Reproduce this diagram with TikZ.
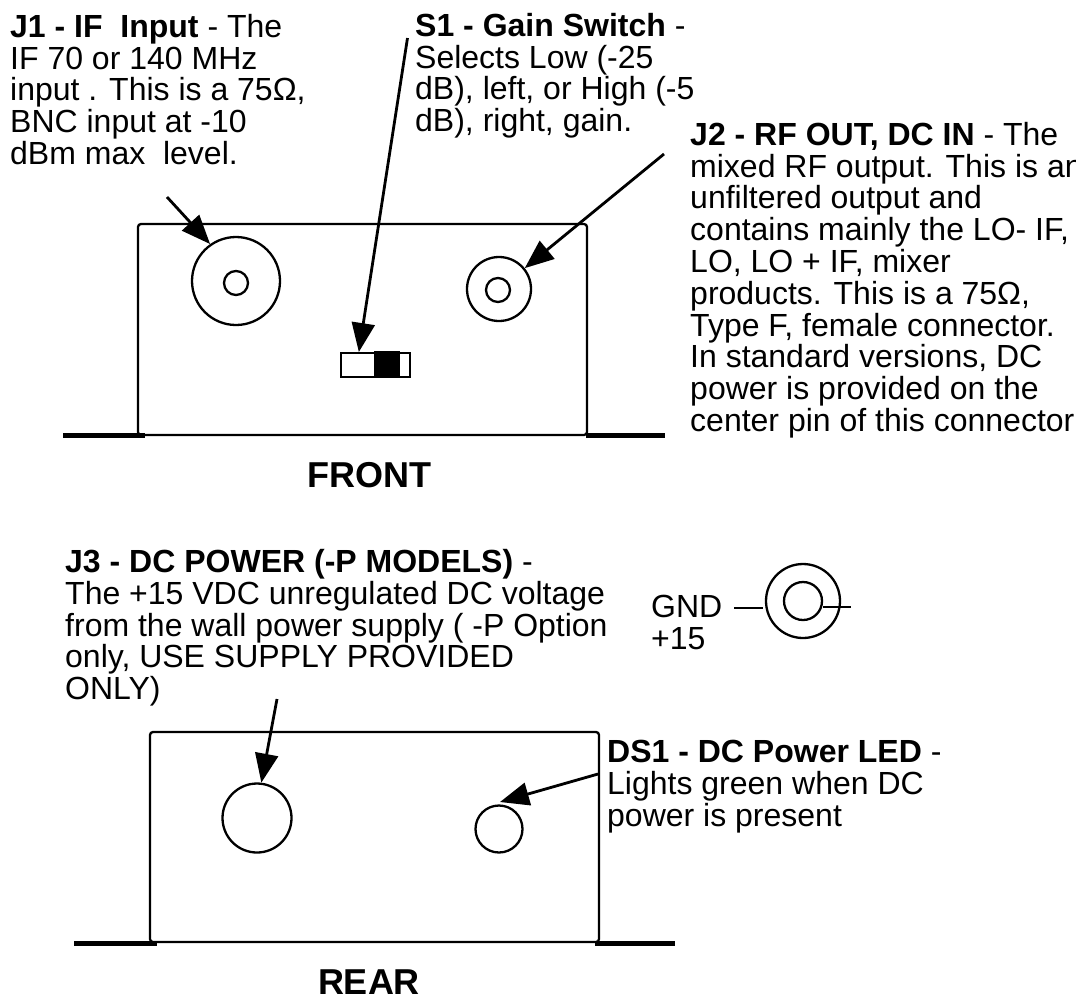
\documentclass[tikz,border=0pt]{standalone}
\usepackage{fontspec}
\setmainfont{Liberation Sans}
\usetikzlibrary{arrows.meta}
\tikzset{
  x=1pt,y=-1pt,
  label text/.style={anchor=north west,inner sep=0pt,align=left,font=\fontsize{32}{31.8}\selectfont},
  title text/.style={anchor=center,inner sep=0pt,font=\fontsize{36}{38}\selectfont\bfseries},
  casing/.style={draw=black,line width=2.3pt,rounded corners=3pt},
  foot/.style={line width=5pt},
  ring/.style={circle,draw=black,line width=2.3pt,inner sep=0pt},
  pointer/.style={line width=2.8pt,-{Triangle[length=29pt,width=23pt]}},
  thinlead/.style={line width=2.3pt},
}
\begin{document}
\begin{tikzpicture}
\useasboundingbox (0,0) rectangle (1076,997);
% labels
\node[label text] (j1t) at (10,14) {\textbf{J1 - IF\ \ Input} - The\\IF 70 or 140 MHz\\input . This is a 75Ω,\\BNC input at -10\\dBm max\ \ level.};
\node[label text] (s1t) at (415,13) {\textbf{S1 - Gain Switch} -\\Selects Low (-25\\dB), left, or High (-5\\dB), right, gain.};
\node[label text] (j2t) at (690,122) {\textbf{J2 - RF OUT, DC IN} - The\\mixed RF output. This is an\\unfiltered output and\\contains mainly the LO- IF,\\LO, LO + IF, mixer\\products. This is a 75Ω,\\Type F, female connector.\\In standard versions, DC\\power is provided on the\\center pin of this connector};
\node[label text] (j3t) at (65,549) {\textbf{J3 - DC POWER (-P MODELS)} -\\The +15 VDC unregulated DC voltage\\from the wall power supply ( -P Option\\only, USE SUPPLY PROVIDED\\ONLY)};
\node[label text] (dst) at (607,740) {\textbf{DS1 - DC Power LED} -\\Lights green when DC\\power is present};
\node[label text] (gnd) at (651,595) {GND\\+15};
\node[title text] (front) at (369.5,475) {FRONT};
\node[title text] (rear) at (369,982) {REAR};
% front panel
\draw[casing] (138,224) rectangle (587,435);
\draw[foot] (63,435) -- (145,435);
\draw[foot] (586,435) -- (665,435);
\node[ring,minimum size=88pt] (j1) at (236,281) {};
\node[ring,minimum size=24pt] (j1i) at (236,283) {};
\node[ring,minimum size=64pt] (j2) at (499,289) {};
\node[ring,minimum size=24pt] (j2i) at (498,290) {};
\node[draw=black,line width=2pt,minimum width=69pt,minimum height=24pt,inner sep=0pt] (sw) at (375.5,365) {};
\fill[black] (374,351) rectangle (400,378);
% front pointers
\coordinate (j1s) at (167,197);
\coordinate (s1s) at (407.5,38);
\coordinate (j2s) at (664,154);
\draw[pointer] (j1s) -- (j1.125);
\draw[pointer] (s1s) -- (sw.142);
\draw[pointer] (j2s) -- (j2.39);
% jack symbol
\node[ring,minimum size=74pt] (jo) at (803,601) {};
\node[ring,minimum size=38pt] (ji) at (803,601) {};
\coordinate (gl) at (734,608);
\coordinate (gr) at (763,608);
\coordinate (pr) at (851,607);
\draw[thinlead] (gl) -- (gr);
\draw[thinlead] (ji.east |- pr) -- (pr);
% rear panel
\draw[casing] (150,732) rectangle (599,942);
\draw[foot] (74,943) -- (157,943);
\draw[foot] (595,943) -- (675,943);
\node[ring,minimum size=69pt] (j3) at (257,818) {};
\node[ring,minimum size=47pt] (ds) at (499,829) {};
\coordinate (j3s) at (277,699);
\coordinate (dss) at (598,774);
\coordinate (dsp) at (500,802);
\draw[pointer] (j3s) -- (j3.83);
\draw[pointer] (dss) -- (dsp);
\end{tikzpicture}
\end{document}
